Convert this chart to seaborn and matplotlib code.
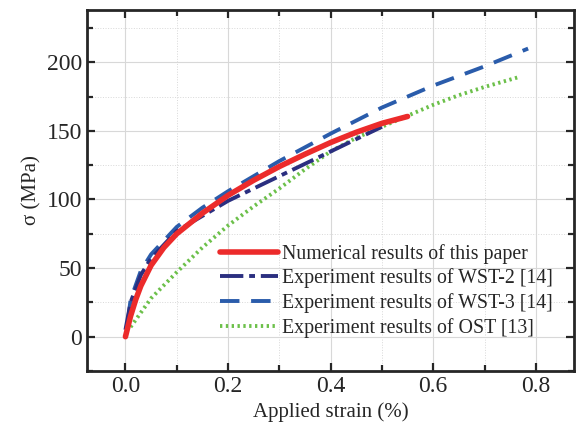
import pandas as pd
import seaborn as sns
import matplotlib.pyplot as plt
import matplotlib.ticker as mticker

num_strain = [0.0, 0.01, 0.02, 0.03, 0.05, 0.075, 0.1, 0.15, 0.2, 0.25, 0.3, 0.35, 0.4, 0.45, 0.5, 0.55]
num_stress = [0, 15, 27, 37, 52, 65, 75, 90, 103, 114, 124, 133, 141.5, 149, 155.5, 160.5]

wst2_strain = [0.0, 0.01, 0.03, 0.05, 0.1, 0.15, 0.2, 0.25, 0.3, 0.35, 0.4, 0.45, 0.5]
wst2_stress = [5, 25, 45, 57, 77, 88, 99, 108, 117, 126, 135, 144, 153]

wst3_strain = [0.005, 0.01, 0.03, 0.05, 0.1, 0.15, 0.2, 0.3, 0.4, 0.5, 0.6, 0.7, 0.785]
wst3_stress = [12, 27, 48, 60, 80, 94, 106, 128, 148, 167, 183, 197, 210]

ost_strain = [0.01, 0.05, 0.1, 0.15, 0.2, 0.25, 0.3, 0.35, 0.4, 0.45, 0.5, 0.55, 0.6, 0.65, 0.7, 0.765]
ost_stress = [7, 28, 47, 65, 81, 95, 108, 122, 135, 145, 153, 161, 169, 176, 182, 189]

labels = ['Numerical results of this paper',
          'Experiment results of WST-2 [14]',
          'Experiment results of WST-3 [14]',
          'Experiment results of OST [13]']
colors = ['#ec2b2b', '#2b2f80', '#2a5cab', '#6cc04a']

sns.set_style('ticks')
plt.rcParams['font.family'] = ['Liberation Serif', 'DejaVu Serif']

fig, ax = plt.subplots(figsize=(5.76, 4.23), dpi=100)

sns.lineplot(x=num_strain, y=num_stress, ax=ax, color=colors[0], lw=4,
             label=labels[0], solid_capstyle='round', zorder=5)
sns.lineplot(x=wst2_strain, y=wst2_stress, ax=ax, color=colors[1], lw=2.8,
             label=labels[1], zorder=4)
ax.lines[-1].set_dashes([6, 1.5, 1.5, 1.5])
sns.lineplot(x=wst3_strain, y=wst3_stress, ax=ax, color=colors[2], lw=2.8,
             label=labels[2], zorder=3)
ax.lines[-1].set_dashes([5, 3])
sns.lineplot(x=ost_strain, y=ost_stress, ax=ax, color=colors[3], lw=2.8,
             label=labels[3], zorder=2)
ax.lines[-1].set_dashes([0.6, 0.9])

ax.set_xlim(-0.075, 0.875)
ax.set_ylim(-25, 238)
ax.xaxis.set_major_locator(mticker.MultipleLocator(0.2))
ax.xaxis.set_minor_locator(mticker.MultipleLocator(0.1))
ax.yaxis.set_major_locator(mticker.MultipleLocator(50))
ax.yaxis.set_minor_locator(mticker.MultipleLocator(25))
ax.xaxis.set_major_formatter(mticker.FormatStrFormatter('%.1f'))

ax.grid(which='major', color='#d8d8d8', lw=0.8, ls='-')
ax.grid(which='minor', color='#d8d8d8', lw=0.7, ls=':')
ax.set_axisbelow(True)

ax.tick_params(which='both', direction='in', top=True, right=True, width=1.6, labelsize=17)
ax.tick_params(which='major', length=6)
ax.tick_params(which='minor', length=4)
for sp in ax.spines.values():
    sp.set_linewidth(2)

ax.set_xlabel('Applied strain (%)', fontsize=15)
ax.set_ylabel('σ (MPa)', fontsize=15)

leg = ax.legend(loc='upper left', bbox_to_anchor=(0.257, 0.375), frameon=False,
                fontsize=14.3, handlelength=2.9, handletextpad=0.2,
                labelspacing=0.24, borderaxespad=0)

fig.subplots_adjust(left=0.151, right=0.997, top=0.976, bottom=0.123)
fig.savefig('out.png', dpi=100)
